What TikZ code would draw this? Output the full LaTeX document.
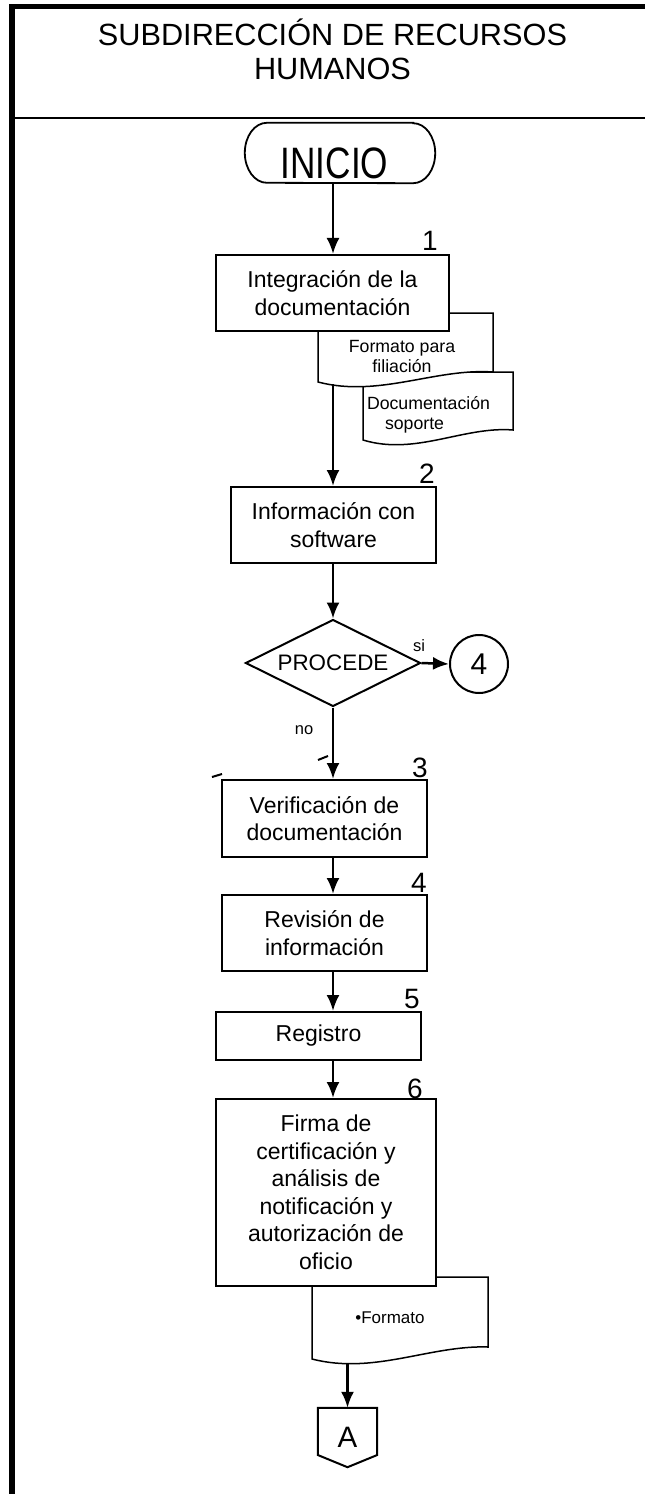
\documentclass[tikz,border=0pt]{standalone}
\usepackage{fontspec}
\setmainfont{Liberation Sans}
\usepackage{graphicx}
\usetikzlibrary{arrows.meta, calc, shapes.geometric}

\begin{document}
\begin{tikzpicture}[x=1bp, y=-1bp,
  box/.style={draw, fill=white, line width=2bp, inner sep=0pt, align=center,
    font=\fontsize{23bp}{27.5bp}\selectfont},
  num/.style={anchor=base east, inner sep=0pt, font=\fontsize{28bp}{28bp}\selectfont},
  small/.style={inner sep=0pt, font=\fontsize{16.5bp}{16.5bp}\selectfont},
  doctext/.style={inner sep=0pt, align=center, font=\fontsize{17.7bp}{20bp}\selectfont},
  docline/.style={draw, fill=white, line width=1.5bp},
  arr/.style={-{Latex[length=16bp, width=13bp]}, line width=2.5bp}]

\useasboundingbox (0,0) rectangle (645,1494);

% marco
\fill (9,4) rectangle (645,9);
\fill (9,4) rectangle (15,1494);
\draw[line width=2bp] (15,118) -- (645,118);

\node[align=center, inner sep=0pt, font=\fontsize{30.7bp}{34bp}\selectfont] (titulo) at (332.5,49.5)
  {SUBDIRECCIÓN DE RECURSOS\\HUMANOS};

% documentos
\path[docline] (363,372) -- (513,372) -- (513,430)
  .. controls (463.5,426) and (415.5,456) .. (363,440) -- cycle;
\path[docline] (318,313) -- (493,313) -- (493,372)
  .. controls (435,368) and (379,398) .. (318,382) -- cycle;
\path[docline] (312,1277) -- (488,1277) -- (488,1347)
  .. controls (430,1345) and (374,1375) .. (312,1359) -- cycle;
\node[doctext] (filiacion) at (402,356) {Formato para\\filiación};
\node[doctext, align=left] (soporte) at (428.5,415) {Documentación\\\hspace*{18bp}soporte};
\node[inner sep=0pt, anchor=base, font=\fontsize{17bp}{17bp}\selectfont] (formato) at (390,1323) {•Formato};

% pasos
\node[minimum width=190bp, minimum height=60bp, inner sep=0pt, text height=51bp, text depth=0pt,
  font=\fontsize{44bp}{44bp}\selectfont] (inicio) at (340,153) {\hspace*{-11bp}\scalebox{0.8}[1]{INICIO}};
\draw[line width=1.8bp] ($(inicio.north east)+(-22,0)$) -- ($(inicio.north west)+(22,0)$)
  arc[start angle=270, end angle=90, x radius=22, y radius=30]
  -- ($(inicio.south east)+(-22,0)$)
  arc[start angle=90, end angle=-90, x radius=22, y radius=30] -- cycle;
\node[box, minimum width=233bp, minimum height=76bp] (b1) at (332.5,293) {Integración de la\\documentación};
\node[box, minimum width=205bp, minimum height=76bp] (b2) at (333.5,525) {Información con\\software};
\node[draw, diamond, aspect=2, line width=2bp, minimum width=175bp, minimum height=87bp,
  inner sep=0pt, font=\fontsize{22.4bp}{22.4bp}\selectfont] (procede) at (333,663) {PROCEDE};
\node[draw, circle, line width=2bp, minimum size=58bp, inner sep=0pt,
  font=\fontsize{30bp}{30bp}\selectfont] (c4) at (479,664) {4};
\node[box, minimum width=205bp, minimum height=77bp] (b3) at (324.5,818.5) {Verificación de\\documentación};
\node[box, minimum width=205bp, minimum height=76bp] (b4) at (324.5,933) {Revisión de\\información};
\node[box, minimum width=205bp, minimum height=48bp] (b5) at (318.5,1036) {Registro};
\node[box, minimum width=220bp, minimum height=187bp] (b6) at (326,1192.5)
  {Firma de\\certificación y\\análisis de\\notificación y\\autorización de\\oficio};
\node[inner sep=0pt, minimum width=59bp, minimum height=59bp,
  font=\fontsize{29.5bp}{29.5bp}\selectfont] (conA) at (347.5,1437.5) {A};
\draw[line width=2bp] (conA.north west) -- (conA.north east) -- ($(conA.east)+(0,17.5)$)
  -- (conA.south) -- ($(conA.west)+(0,17.5)$) -- cycle;

% numeros
\node[num] (n1) at (438,250) {1};
\node[num] (n2) at (435,483) {2};
\node[num] (n3) at (428,777) {3};
\node[num] (n4) at (427,892) {4};
\node[num] (n5) at (420,1008) {5};
\node[num] (n6) at (423,1098) {6};

\node[small] (si) at (419,646) {si};
\node[small] (no) at (304,730) {no};
\draw[line width=2bp] (318,760) -- (328,756);
\draw[line width=2bp] (212,777) -- (222,774);

% flechas
\coordinate (eje) at (333,0);
\coordinate (d1) at (333,384);
\coordinate (d3) at (347.5,1363);
\draw[arr] (inicio.south -| eje) -- (b1.north -| eje);
\draw[arr] (d1) -- (b2.north -| d1);
\draw[arr] (b2.south -| eje) -- (procede.north);
\draw[arr] (procede.east) -- (c4.west);
\draw[arr] (procede.south) -- (b3.north -| eje);
\draw[arr] (b3.south -| eje) -- (b4.north -| eje);
\draw[arr] (b4.south -| eje) -- (b5.north -| eje);
\draw[arr] (b5.south -| eje) -- (b6.north -| eje);
\draw[arr] (d3) -- (conA.north);

\end{tikzpicture}
\end{document}
